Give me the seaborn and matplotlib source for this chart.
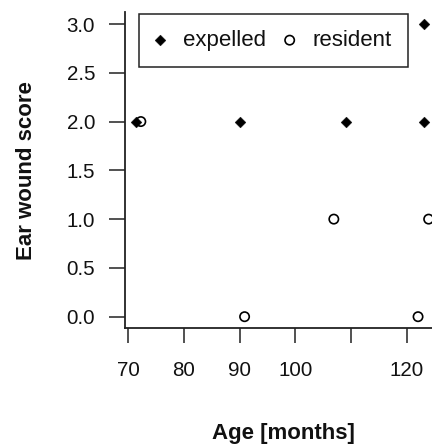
import matplotlib
matplotlib.use("Agg")
import matplotlib.pyplot as plt
import seaborn as sns
import pandas as pd

# ---- data ----
expelled_age = [71.5, 90.0, 109.0, 123.0, 123.0]
expelled_score = [2.0, 2.0, 2.0, 2.0, 3.0]
resident_age = [72.3, 90.9, 106.9, 122.0, 123.9]
resident_score = [2.0, 0.0, 1.0, 0.0, 1.0]
x_ticks = [70, 80, 90, 100, 110, 120]
x_tick_labels = ["70", "80", "90", "100", "", "120"]
y_ticks = [0.0, 0.5, 1.0, 1.5, 2.0, 2.5, 3.0]
y_tick_labels = ["0.0", "0.5", "1.0", "1.5", "2.0", "2.5", "3.0"]

sns.set_theme(style="white")
plt.rcParams["font.family"] = ["Liberation Sans", "DejaVu Sans"]

ink = "#222222"
fig = plt.figure(figsize=(4.32, 4.44), dpi=100)
ax = fig.add_axes([125 / 432, 1 - 328 / 444, 307 / 432, 316 / 444])

exp_df = pd.DataFrame({"age": expelled_age, "score": expelled_score})
res_df = pd.DataFrame({"age": resident_age, "score": resident_score})

sns.scatterplot(data=exp_df, x="age", y="score", marker="D", s=30,
                color="black", edgecolor="black", linewidth=0.3,
                ax=ax, label="expelled", zorder=3)
sns.scatterplot(data=res_df, x="age", y="score", marker="o", s=45,
                facecolors="none", edgecolor="black", linewidth=1.2,
                ax=ax, label="resident", zorder=3)

ax.set_xlim(69.46, 124.5)
ax.set_ylim(-0.116, 3.123)
ax.set_xticks(x_ticks)
ax.set_xticklabels(x_tick_labels)
ax.set_yticks(y_ticks)
ax.set_yticklabels(y_tick_labels)

sns.despine(ax=ax)
for side in ["left", "bottom"]:
    ax.spines[side].set_color(ink)
    ax.spines[side].set_linewidth(1.3)

ax.tick_params(axis="both", which="major", direction="out", color=ink,
               width=1.1, labelsize=14.8, labelcolor="#111111",
               left=True, bottom=True)
ax.tick_params(axis="y", length=11.5, pad=10)
ax.tick_params(axis="x", length=10.8, pad=13)

ax.set_xlabel("Age [months]", fontsize=16, fontweight="bold", color="#111111")
ax.set_ylabel("Ear wound score", fontsize=16, fontweight="bold", color="#111111")
ax.xaxis.label.set_va("baseline")
ax.yaxis.label.set_va("baseline")
ax.xaxis.set_label_coords((283 - 125) / 307, (328 - 439) / 316)
ax.yaxis.set_label_coords((32 - 125) / 307, (328 - 171) / 316)

leg = ax.legend(loc="upper left", bbox_to_anchor=((139 - 125) / 307, (328 - 14) / 316),
                borderaxespad=0, ncol=2, fontsize=16, frameon=True, fancybox=False,
                borderpad=0.72, handlelength=0.45, handletextpad=0.8,
                columnspacing=0.85, labelcolor="#111111")
frame = leg.get_frame()
frame.set_edgecolor(ink)
frame.set_linewidth(1.1)
frame.set_facecolor("white")
frame.set_alpha(1)

fig.savefig("out.png", dpi=100)
